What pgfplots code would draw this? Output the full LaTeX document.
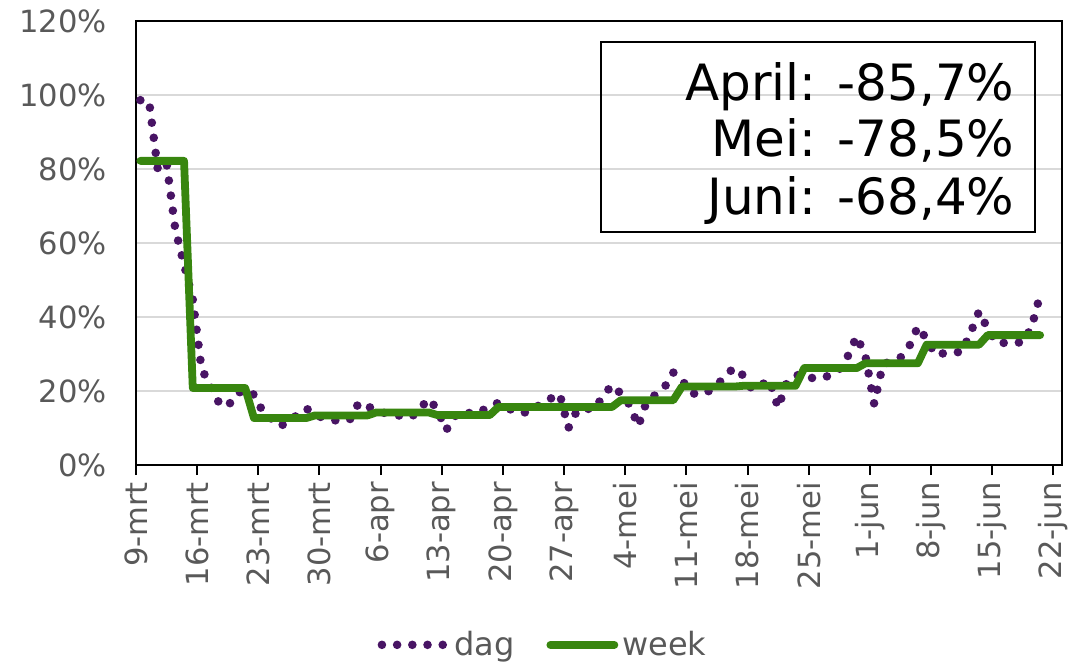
\documentclass[border=0pt]{standalone}
\usepackage{fontspec}
\setmainfont{DejaVu Sans}
\usepackage{pgfplots}
\usepackage{pgfplotstable}
\pgfplotsset{compat=1.18}
\definecolor{dagc}{RGB}{72,20,100}
\definecolor{weekc}{RGB}{56,134,15}
\definecolor{tickc}{RGB}{89,89,89}
\definecolor{gridc}{RGB}{217,217,217}

\pgfplotstableread{
d dag week
0 98.6 82.2
1 98.3 82.2
2 79.8 82.2
3 81.6 82.2
4 63.7 82.2
5 54.2 82.2
6 44.7 20.8
7 26.0 20.8
8 21.5 20.8
9 16.8 20.8
10 15.8 20.8
11 19.3 20.8
12 20.3 20.8
13 19.0 12.7
14 14.5 12.7
15 12.5 12.7
16 10.4 12.7
17 12.0 12.7
18 13.5 12.7
19 15.3 12.7
20 13.5 13.4
21 12.7 13.4
22 12.2 13.4
23 11.8 13.4
24 12.4 13.4
25 16.8 13.4
26 15.8 13.4
27 15.0 14.2
28 14.0 14.2
29 13.5 14.2
30 13.3 14.2
31 12.9 14.2
32 15.2 14.2
33 17.9 14.2
34 15.0 13.5
35 9.4 13.5
36 13.2 13.5
37 14.5 13.5
38 13.8 13.5
39 14.5 13.5
40 16.0 13.5
41 16.8 15.7
42 15.5 15.7
43 14.2 15.7
44 14.2 15.7
45 14.8 15.7
46 17.0 15.7
47 18.0 15.7
48 19.2 15.7
49 10.0 15.7
50 14.8 15.7
51 15.2 15.7
52 15.1 15.7
53 18.8 15.7
54 21.6 15.7
55 19.3 17.5
56 16.3 17.5
57 10.5 17.5
58 17.5 17.5
59 19.0 17.5
60 21.0 17.5
61 25.0 17.5
62 23.0 21.2
63 19.5 21.2
64 19.0 21.2
65 19.9 21.2
66 21.5 21.2
67 24.3 21.2
68 26.3 21.2
69 24.2 21.4
70 20.5 21.4
71 21.5 21.4
72 23.0 21.4
73 15.5 21.4
74 22.3 21.4
75 24.2 21.4
76 24.5 26.2
77 23.4 26.2
78 23.6 26.2
79 24.2 26.2
80 25.8 26.2
81 29.5 26.2
82 34.8 26.2
83 29.4 27.5
84 16.5 27.5
85 27.3 27.5
86 28.0 27.5
87 29.0 27.5
88 32.0 27.5
89 37.4 27.5
90 34.0 32.5
91 29.8 32.5
92 30.2 32.5
93 30.5 32.5
94 30.5 32.5
95 35.5 32.5
96 41.5 32.5
97 36.8 35.1
98 33.0 35.1
99 33.0 35.1
100 33.0 35.1
101 33.2 35.1
102 37.1 35.1
103 46.0 35.1
}\data

\begin{document}
\begin{tikzpicture}
\begin{axis}[
  name=ax,
  scale only axis, width=463pt, height=222pt,
  xmin=0, xmax=106, ymin=0, ymax=120,
  xtick={0,7,...,105},
  xticklabels={9-mrt,16-mrt,23-mrt,30-mrt,6-apr,13-apr,20-apr,27-apr,4-mei,11-mei,18-mei,25-mei,1-jun,8-jun,15-jun,22-jun},
  ytick={0,20,...,120},
  yticklabel={\pgfmathprintnumber{\tick}\%},
  /pgf/number format/assume math mode=true,
  ymajorgrids, grid style={gridc, line width=1pt},
  axis line style={black, line width=1pt},
  tick align=outside,
  xtick pos=bottom,
  ytick pos=left,
  major tick length=5pt,
  xtick style={black, line width=1pt},
  ytick style={draw=none},
  ticklabel style={font=\fontsize{15.3}{18}\selectfont, text=tickc},
  xticklabel style={rotate=90, anchor=east},
  yticklabel style={xshift=-6pt},
  legend columns=2,
  legend style={at={(0.4406,-0.405)}, anchor=center, draw=none, fill=none,
    font=\fontsize{16}{18}\selectfont, text=tickc,
    /tikz/every even column/.append style={column sep=14pt}},
  legend cell align=left,
  legend image code/.code={\draw[#1] (0pt,0pt) -- (32pt,0pt);},
]
\addplot[dagc, line width=4.3pt, line cap=round, dash pattern=on 0pt off 7.6pt]
  table[x expr=\thisrow{d}+0.5, y=dag] {\data};
\addlegendentry{dag}
\addplot[weekc, line width=3.9pt, line cap=round, line join=round]
  table[x expr=\thisrow{d}+0.5, y=week] {\data};
\addlegendentry{week}
\draw[black, line width=1pt] (rel axis cs:0.502,0.525) rectangle (rel axis cs:0.971,0.953);
\node[anchor=base east, font=\fontsize{25}{30}\selectfont, inner sep=0pt] at (rel axis cs:0.949,0.822) {April: -85,7\%};
\node[anchor=base east, font=\fontsize{25}{30}\selectfont, inner sep=0pt] at (rel axis cs:0.949,0.694) {Mei: -78,5\%};
\node[anchor=base east, font=\fontsize{25}{30}\selectfont, inner sep=0pt] at (rel axis cs:0.949,0.565) {Juni: -68,4\%};
\end{axis}
\pgfresetboundingbox
\path[use as bounding box] ([shift={(-68pt,-99.5pt)}]ax.south west) rectangle ([shift={(7pt,10.5pt)}]ax.north east);
\end{tikzpicture}
\end{document}
